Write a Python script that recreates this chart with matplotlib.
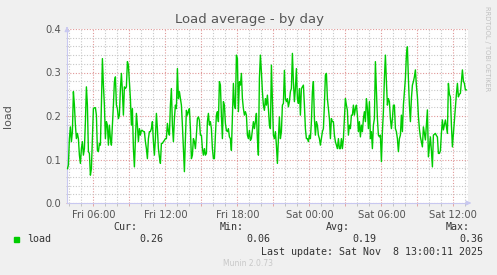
import numpy as np
import matplotlib
matplotlib.use("Agg")
import matplotlib.pyplot as plt

# load average, 5 minute samples starting Fri 03:50
start_hour = 3 + 50 / 60.0
step_hours = 5 / 60.0
load = [
    0.079, 0.087, 0.148, 0.175, 0.141, 0.164, 0.256, 0.225, 0.179, 0.148,
    0.16, 0.148, 0.11, 0.091, 0.125, 0.141, 0.11, 0.125, 0.187, 0.267,
    0.225, 0.118, 0.114, 0.064, 0.079, 0.148, 0.217, 0.219, 0.219, 0.202,
    0.121, 0.118, 0.137, 0.133, 0.225, 0.332, 0.271, 0.225, 0.148, 0.187,
    0.179, 0.133, 0.179, 0.148, 0.133, 0.179, 0.225, 0.279, 0.29, 0.225,
    0.217, 0.194, 0.202, 0.263, 0.298, 0.256, 0.202,
    0.267, 0.263, 0.267, 0.325, 0.317, 0.279, 0.240, 0.179, 0.217, 0.125,
    0.083, 0.148, 0.206, 0.179, 0.141, 0.171, 0.156, 0.167, 0.167, 0.164,
    0.164, 0.141, 0.125, 0.102, 0.148, 0.164, 0.164, 0.171, 0.187, 0.141,
    0.11, 0.148, 0.206, 0.171, 0.125, 0.106, 0.091, 0.137, 0.137, 0.141,
    0.144, 0.148, 0.148, 0.183, 0.164, 0.156, 0.225, 0.263, 0.179, 0.141,
    0.194, 0.225, 0.217, 0.309, 0.240, 0.256,
    0.24, 0.225, 0.179, 0.125, 0.072, 0.148, 0.213, 0.202, 0.21, 0.217,
    0.171, 0.102, 0.11, 0.148, 0.141, 0.125, 0.156, 0.194, 0.198, 0.19,
    0.156, 0.156, 0.125, 0.11, 0.125, 0.11, 0.114, 0.187, 0.206, 0.179,
    0.187, 0.171, 0.125, 0.102, 0.102, 0.156, 0.202, 0.21, 0.187, 0.279,
    0.271, 0.202, 0.148, 0.233, 0.225, 0.183, 0.167, 0.164, 0.171, 0.152,
    0.148, 0.121, 0.202, 0.275, 0.225, 0.217, 0.34, 0.332,
    0.21, 0.279, 0.271, 0.298, 0.24, 0.217, 0.202, 0.21, 0.202, 0.156,
    0.148, 0.167, 0.144, 0.148, 0.167, 0.187, 0.171, 0.187, 0.206, 0.148,
    0.11, 0.286, 0.34, 0.302, 0.256, 0.225, 0.213, 0.24, 0.225, 0.248,
    0.217, 0.179, 0.171, 0.317, 0.24, 0.156, 0.148, 0.164, 0.133, 0.091,
    0.148, 0.198, 0.148, 0.164, 0.225, 0.229, 0.305, 0.24, 0.233, 0.24,
    0.221, 0.233, 0.256, 0.263, 0.344, 0.279, 0.233, 0.263,
    0.309, 0.24, 0.229, 0.263, 0.202, 0.263, 0.267, 0.271, 0.225, 0.171,
    0.148, 0.148, 0.141, 0.156, 0.148, 0.187, 0.256, 0.279, 0.194, 0.156,
    0.187, 0.179, 0.156, 0.148, 0.133, 0.148, 0.164, 0.171, 0.225, 0.294,
    0.298, 0.24, 0.217, 0.194, 0.148, 0.194, 0.187, 0.187, 0.156, 0.141,
    0.133, 0.125, 0.148, 0.125, 0.125, 0.148, 0.125, 0.148, 0.194, 0.24,
    0.225, 0.213, 0.156, 0.179, 0.171, 0.202, 0.202, 0.225,
    0.202, 0.217, 0.225, 0.202, 0.164, 0.187, 0.152, 0.179, 0.164, 0.194,
    0.21, 0.187, 0.24, 0.217, 0.171, 0.233, 0.148, 0.164, 0.125, 0.179,
    0.194, 0.325, 0.256, 0.194, 0.156, 0.152, 0.156, 0.095, 0.164, 0.21,
    0.286, 0.34, 0.279, 0.225, 0.24, 0.233, 0.194, 0.171, 0.194, 0.225,
    0.225, 0.171, 0.164, 0.148, 0.118, 0.148, 0.156, 0.202, 0.164, 0.225,
    0.256, 0.286, 0.34, 0.359, 0.286, 0.225, 0.187, 0.24, 0.271, 0.279,
    0.29, 0.306, 0.27, 0.244, 0.2, 0.17, 0.152, 0.14, 0.129, 0.175,
    0.16, 0.145, 0.18, 0.214, 0.106, 0.13, 0.152, 0.12, 0.083, 0.156,
    0.158, 0.16, 0.155, 0.152, 0.114, 0.114, 0.12, 0.16, 0.191, 0.168,
    0.18, 0.191, 0.175, 0.16, 0.275, 0.25, 0.244, 0.18, 0.129, 0.16,
    0.191, 0.222, 0.25, 0.275, 0.244, 0.25, 0.252, 0.28, 0.306, 0.28,
    0.275, 0.26, 0.26,
]
hours = start_hour + step_hours * np.arange(len(load))

label_hours = [6, 12, 18, 24, 30, 36]
label_text = ["Fri 06:00", "Fri 12:00", "Fri 18:00", "Sat 00:00", "Sat 06:00", "Sat 12:00"]
y_ticks = [0.0, 0.1, 0.2, 0.3, 0.4]

stat_names = ["Cur:", "Min:", "Avg:", "Max:"]
stat_values = ["0.26", "0.06", "0.19", "0.36"]

bg = "#f0f0f0"
axis_col = "#c8c8f0"
text_col = "#555555"
major_col = "#e09898"
minor_col = "#c8c8c8"

fig = plt.figure(figsize=(4.97, 2.75), dpi=100, facecolor=bg)
ax = fig.add_axes([67 / 497, 72 / 275, 401 / 497, 174 / 275])
ax.set_facecolor("white")

ax.plot(hours, load, color="#00cc00", lw=1.0, zorder=3)

ax.set_xlim(3 + 48 / 60.0, 37 + 13 / 60.0)
ax.set_ylim(0, 0.4)

# grid: minor every hour / 0.02, major every 3 hours / 0.1
ax.set_xticks(np.arange(6, 37, 3))
ax.set_xticklabels([label_text[label_hours.index(h)] if h in label_hours else ""
                    for h in range(6, 37, 3)])
ax.set_xticks(np.arange(4, 38, 1), minor=True)
ax.set_yticks(y_ticks)
ax.set_yticklabels(["%.1f" % v for v in y_ticks])
ax.set_yticks(np.arange(0, 0.401, 0.02), minor=True)
ax.grid(which="minor", color=minor_col, lw=0.8, linestyle=(0, (1, 1.5)), zorder=1)
ax.grid(which="major", color=major_col, lw=0.8, linestyle=(0, (1, 1.5)), zorder=2)
ax.tick_params(which="both", length=2, color=major_col, width=0.6,
               labelsize=7.2, labelcolor=text_col, pad=3)
ax.tick_params(which="minor", color="#bbbbbb")
ax.tick_params(axis="y", which="both", length=2, direction="inout")

for s in ["top", "right"]:
    ax.spines[s].set_visible(False)
for s in ["left", "bottom"]:
    ax.spines[s].set_color(axis_col)
    ax.spines[s].set_linewidth(0.8)

# axis arrowheads
ax.annotate("", xy=(0, 1.03), xytext=(0, 0.99), xycoords="axes fraction",
            arrowprops=dict(arrowstyle="-|>", color=axis_col, lw=0.8,
                            mutation_scale=7), annotation_clip=False)
ax.annotate("", xy=(1.015, 0), xytext=(0.995, 0), xycoords="axes fraction",
            arrowprops=dict(arrowstyle="-|>", color=axis_col, lw=0.8,
                            mutation_scale=7), annotation_clip=False)

ax.set_ylabel("load", fontsize=8, color=text_col, labelpad=22)
ax.yaxis.set_label_coords(-0.135, 0.5)

fig.text(250 / 497, 1 - 19 / 275, "Load average - by day", ha="center", va="center",
         fontsize=9.5, color=text_col)
fig.text(487 / 497, 1 - 6 / 275, "RRDTOOL / TOBI OETIKER", rotation=270,
         ha="center", va="top", fontsize=4.8, color="#c0c0c0")

# legend block
mono = dict(family="DejaVu Sans Mono", fontsize=7.2, color="#333333", va="center")
stat_right = [150, 257, 363, 483]
for name, val, xr in zip(stat_names, stat_values, stat_right):
    fig.text((xr - 13) / 497 if name != "Max:" else 470 / 497, 1 - 227 / 275, name,
             ha="right", **mono)
    fig.text(xr / 497 if name == "Max:" else (xr + 13) / 497, 1 - 239 / 275, val,
             ha="right", **mono)
fig.patches.append(plt.Rectangle((14 / 497, 1 - 242 / 275), 5 / 497, 5 / 275,
                                 transform=fig.transFigure, color="#00cc00"))
fig.text(27 / 497, 1 - 239 / 275, "load", ha="left", **mono)
fig.text(483 / 497, 1 - 252 / 275, "Last update: Sat Nov  8 13:00:11 2025",
         ha="right", **mono)
fig.text(248 / 497, 1 - 264 / 275, "Munin 2.0.73", ha="center", va="center",
         fontsize=5.5, color="#c8c8c8")

fig.savefig("out.png", dpi=100, facecolor=bg)
